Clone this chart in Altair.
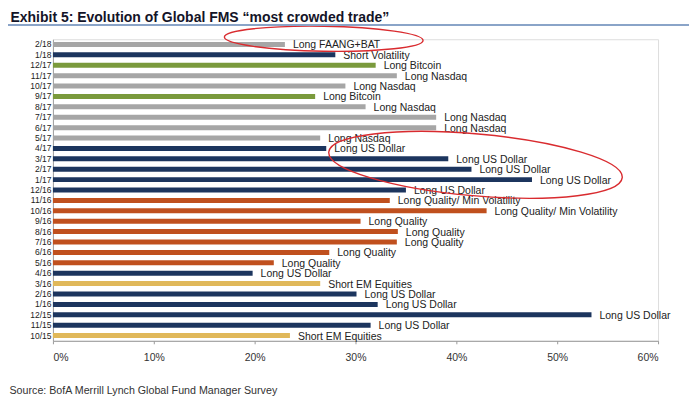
import altair as alt
import pandas as pd

months = ["2/18", "1/18", "12/17", "11/17", "10/17", "9/17", "8/17", "7/17", "6/17",
          "5/17", "4/17", "3/17", "2/17", "1/17", "12/16", "11/16", "10/16", "9/16",
          "8/16", "7/16", "6/16", "5/16", "4/16", "3/16", "2/16", "1/16", "12/15",
          "11/15", "10/15"]
values = [23.0, 28.0, 32.0, 34.1, 29.0, 26.0, 31.0, 38.0, 38.0,
          26.5, 27.1, 39.2, 41.5, 47.5, 35.0, 33.4, 43.0, 30.5,
          34.2, 34.1, 27.4, 21.9, 19.8, 26.5, 30.1, 32.2, 53.4,
          31.5, 23.5]
trades = ["Long FAANG+BAT", "Short Volatility", "Long Bitcoin", "Long Nasdaq", "Long Nasdaq",
          "Long Bitcoin", "Long Nasdaq", "Long Nasdaq", "Long Nasdaq", "Long Nasdaq",
          "Long US Dollar", "Long US Dollar", "Long US Dollar", "Long US Dollar",
          "Long US Dollar", "Long Quality/ Min Volatility", "Long Quality/ Min Volatility",
          "Long Quality", "Long Quality", "Long Quality", "Long Quality", "Long Quality",
          "Long US Dollar", "Short EM Equities", "Long US Dollar", "Long US Dollar",
          "Long US Dollar", "Long US Dollar", "Short EM Equities"]
groups = ["tech", "dollar", "bitcoin", "tech", "tech", "bitcoin", "tech", "tech", "tech",
          "tech", "dollar", "dollar", "dollar", "dollar", "dollar", "quality", "quality",
          "quality", "quality", "quality", "quality", "quality", "dollar", "em", "dollar",
          "dollar", "dollar", "dollar", "em"]

group_names = ["tech", "dollar", "bitcoin", "quality", "em"]
group_colors = ["#a6a6a6", "#1c355e", "#7a9a3c", "#c0501e", "#e0b85a"]

x_ticks = [0, 10, 20, 30, 40, 50, 60]

title_text = "Exhibit 5: Evolution of Global FMS \u201cmost crowded trade\u201d"
source_text = "Source: BofA Merrill Lynch Global Fund Manager Survey"

# annotation ellipses (centre value, row)
ann1_x = [26.85]
ann1_m = ["2/18"]
ann2_x = [41.9]
ann2_m = ["3/17"]

df = pd.DataFrame({"month": months, "value": values, "trade": trades, "group": groups})
a1 = pd.DataFrame({"month": ann1_m, "value": ann1_x})
a2 = pd.DataFrame({"month": ann2_m, "value": ann2_x})

FONT = "Liberation Sans, Arial, sans-serif"


def ellipse_path(r):
    k = 0.5523
    b = r
    return (f"M-1,0 C-1,{-k*b:.4f} {-k},{-b:.4f} 0,{-b:.4f} "
            f"C{k},{-b:.4f} 1,{-k*b:.4f} 1,0 "
            f"C1,{k*b:.4f} {k},{b:.4f} 0,{b:.4f} "
            f"C{-k},{b:.4f} -1,{k*b:.4f} -1,0 Z")


x_enc = alt.X("value:Q",
              scale=alt.Scale(domain=[0, 60], nice=False, zero=True),
              axis=alt.Axis(values=x_ticks, labelExpr="datum.value + '%'", grid=False,
                            tickSize=3, labelPadding=8.5, domainColor="#9a9a9a",
                            tickColor="#9a9a9a", labelFont=FONT, labelFontSize=10.5,
                            labelColor="#333333",
                            title=source_text, titleFont=FONT, titleFontSize=10.7,
                            titleFontWeight="normal", titleColor="#333333",
                            titleX=-44, titleY=53, titleAlign="left",
                            titleAnchor="start", titleBaseline="alphabetic"))
y_enc = alt.Y("month:N",
              scale=alt.Scale(domain=months, paddingInner=0.52, paddingOuter=0.26),
              axis=alt.Axis(ticks=False, labelPadding=2, domainColor="#a0a0a0",
                            labelFont=FONT, labelFontSize=8.5, labelColor="#222222",
                            title=title_text, titleFont=FONT, titleFontSize=14,
                            titleFontWeight="bold", titleColor="#141428",
                            titleAngle=0, titleX=-43, titleY=-18, titleAlign="left",
                            titleAnchor="start", titleBaseline="alphabetic"))

base = alt.Chart(df)

bars = base.mark_bar(size=5).encode(
    x=x_enc, y=y_enc,
    color=alt.Color("group:N", scale=alt.Scale(domain=group_names, range=group_colors),
                    legend=None),
)

labels = base.mark_text(align="left", baseline="middle", dx=8, dy=1, font=FONT,
                        fontSize=10.5, color="#222222").encode(
    x=x_enc, y=y_enc, text="trade:N")

ell1 = alt.Chart(a1).mark_point(shape=ellipse_path(12.5 / 99.5), size=199 ** 2, filled=False,
                                stroke="#d92b2f", strokeWidth=1.4, opacity=1, angle=1,
                                yOffset=-5.7).encode(x=x_enc, y=y_enc)
ell2 = alt.Chart(a2).mark_point(shape=ellipse_path(31 / 147.5), size=295 ** 2, filled=False,
                                stroke="#d92b2f", strokeWidth=1.4, opacity=1, angle=5,
                                yOffset=6).encode(x=x_enc, y=y_enc)

rule = alt.Chart(df).mark_rule(color="#8aa4c8", strokeWidth=1.5).encode(
    x=alt.value(-45), x2=alt.value(637), y=alt.value(-14.5))

chart = alt.layer(bars, labels, ell1, ell2, rule).properties(
    width=606, height=302,
    autosize=alt.AutoSizeParams(type="none"),
    padding={"left": 45, "top": 31, "right": 34, "bottom": 60},
).configure_view(stroke=None).configure(background="white")

chart.save("out.html", embed_options={"renderer": "svg", "actions": False})
